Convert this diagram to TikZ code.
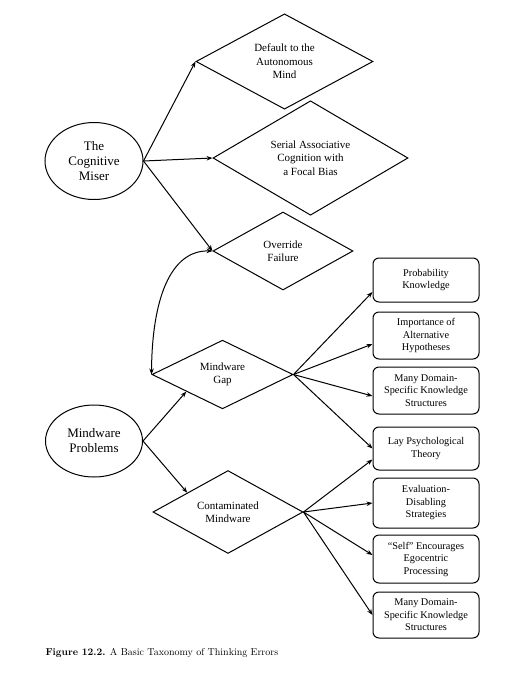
\documentclass[tikz,border=0pt]{standalone}
\usepackage{fontspec}
\newfontfamily\tnr[Ligatures=TeX]{Liberation Serif}
\usetikzlibrary{shapes.geometric,arrows.meta,calc}
\begin{document}
\begin{tikzpicture}[x=1pt,y=-1pt, line width=1pt,
  every node/.style={align=center, inner sep=0pt},
  dia/.style={draw, diamond, font=\tnr\fontsize{11}{13.5}\selectfont},
  ell/.style={draw, ellipse, font=\tnr\fontsize{13}{15}\selectfont},
  box/.style={draw, rounded corners=6pt, minimum width=106pt, font=\tnr\fontsize{10.3}{12.5}\selectfont},
  arr/.style={-{Stealth[length=6pt,width=4.5pt]}}]
\useasboundingbox (0,0) rectangle (518,673);
% ellipses
\node[ell, minimum width=98pt, minimum height=77pt] (miser) at (94,161) {The\\Cognitive\\Miser};
\node[ell, minimum width=97pt, minimum height=72pt] (mp) at (94,441) {Mindware\\Problems};
% diamonds
\node[dia, minimum width=177pt, minimum height=88pt] (def) at (284.5,61.5) {Default to the\\Autonomous\\Mind};
\node[dia, minimum width=195pt, minimum height=88pt] (ser) at (310.5,158) {Serial Associative\\Cognition with\\a Focal Bias};
\node[dia, minimum width=140pt, minimum height=78pt] (ovr) at (283,251) {Override\\Failure};
\node[dia, minimum width=141pt, minimum height=61pt] (gap) at (222.5,374.5) {Mindware\\Gap};
\node[dia, minimum width=150pt, minimum height=70pt] (cont) at (228,512) {Contaminated\\Mindware};
% boxes
\node[box, minimum height=44pt] (b1) at (426,280) {Probability\\Knowledge};
\node[box, minimum height=47pt] (b2) at (426,335.5) {Importance of\\Alternative\\Hypotheses};
\node[box, minimum height=47pt] (b3) at (426,390.5) {Many Domain-\\Specific Knowledge\\Structures};
\node[box, minimum height=43pt] (b4) at (426,448.5) {Lay Psychological\\Theory};
\node[box, minimum height=50pt] (b5) at (426,503) {Evaluation-\\Disabling\\Strategies};
\node[box, minimum height=48pt] (b6) at (426,559) {“Self” Encourages\\Egocentric\\Processing};
\node[box, minimum height=46pt] (b7) at (426,615) {Many Domain-\\Specific Knowledge\\Structures};
% connectors
\draw[arr] (miser.east) -- (def.west);
\draw[arr] (miser.east) -- (ser.west);
\draw[arr] (miser.east) -- (ovr.west);
\draw[arr] (mp.east) -- ($(gap.west)!0.49!(gap.south)$);
\draw[arr] (mp.east) -- ($(cont.west)!0.46!(cont.north)$);
\draw[{Stealth[length=6pt,width=4.5pt]}-{Stealth[length=6pt,width=4.5pt]}] (gap.west) .. controls (152,300) and (170,250) .. (ovr.west);
\draw[arr] (gap.east) -- ($(b1.west)+(0,12)$);
\draw[arr] (gap.east) -- ($(b2.west)+(0,8.5)$);
\draw[arr] (gap.east) -- ($(b3.west)+(0,5.5)$);
\draw[arr] (gap.east) -- ($(b4.west)+(0,0)$);
\draw[arr] (cont.east) -- ($(b4.west)+(0,11)$);
\draw[arr] (cont.east) -- (b5.west);
\draw[arr] (cont.east) -- ($(b6.west)+(0,-4)$);
\draw[arr] (cont.east) -- (b7.west);
% caption
\node[anchor=west, font=\fontsize{10}{12}\selectfont] (cap) at (45,653) {\textbf{Figure \oldstylenums{12.2}.} A Basic Taxonomy of Thinking Errors};
\end{tikzpicture}
\end{document}
